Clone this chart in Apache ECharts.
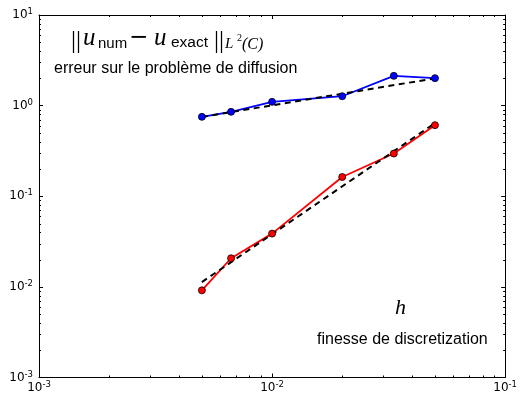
<!DOCTYPE html>
<html><head><meta charset="utf-8">
<script src="https://cdn.jsdelivr.net/npm/echarts@6/dist/echarts.min.js"></script>
<style>html,body{margin:0;padding:0;background:#fff}#c{width:520px;height:394px}</style>
</head><body><div id="c"></div>
<script>
// mesh size h
const hValues = [0.005, 0.00667, 0.01, 0.02, 0.0333, 0.05];
// errors
const diffusionError = [0.752, 0.854, 1.10, 1.27, 2.13, 2.01];
const secondError = [0.00915, 0.0207, 0.0387, 0.163, 0.296, 0.609];
// fitted power laws (dashed), read at endpoints
const fitH = [0.005, 0.05];
const diffusionFit = [0.75, 2.0];
const secondFit = [0.0113, 0.641];
// axis ranges and minor ticks
const xRange = [0.001, 0.1];
const yRange = [0.001, 10];
const xMinorTicks = [0.002,0.003,0.004,0.005,0.006,0.007,0.008,0.009,0.02,0.03,0.04,0.05,0.06,0.07,0.08,0.09];
const yMinorTicks = [0.002,0.003,0.004,0.005,0.006,0.007,0.008,0.009,0.02,0.03,0.04,0.05,0.06,0.07,0.08,0.09,0.2,0.3,0.4,0.5,0.6,0.7,0.8,0.9,2,3,4,5,6,7,8,9];

const zip = (a, b) => a.map((v, i) => [v, b[i]]);
const chart = echarts.init(document.getElementById('c'), null, {renderer: 'canvas'});

const labelRich = {
  b: {fontFamily: 'DejaVu Sans', fontSize: 12, color: '#000', lineHeight: 15},
  s: {fontFamily: 'DejaVu Sans', fontSize: 8.5, color: '#000', verticalAlign: 'top', lineHeight: 9}
};
const fmt = v => '{b|10}{s|' + Math.round(Math.log10(v)) + '}';

function logAxis(pos, range, show) {
  return {
    type: 'log', logBase: 10, min: range[0], max: range[1], position: pos,
    axisLine: {show: true, onZero: false, lineStyle: {color: '#000', width: 1}},
    axisTick: {show: true, inside: true, length: 4, lineStyle: {color: '#000', width: 1}},
    splitLine: {show: false},
    minorTick: {show: false},
    axisLabel: show ? {show: true, formatter: fmt, rich: labelRich, margin: pos === 'bottom' ? 3 : 6} : {show: false}
  };
}

function minorRender(dir) {
  return function (params, api) {
    const cs = params.coordSys;
    const p = api.coord([api.value(0), api.value(1)]);
    const L = 2;
    if (dir === 'x') {
      const x = Math.round(p[0]) + 0.5;
      const b = cs.y + cs.height, t = cs.y;
      return {type: 'group', children: [
        {type: 'line', shape: {x1: x, y1: b, x2: x, y2: b - L}, style: {stroke: '#000', lineWidth: 1}},
        {type: 'line', shape: {x1: x, y1: t, x2: x, y2: t + L}, style: {stroke: '#000', lineWidth: 1}}
      ]};
    } else {
      const y = Math.round(p[1]) + 0.5;
      const l = cs.x, r = cs.x + cs.width;
      return {type: 'group', children: [
        {type: 'line', shape: {x1: l, y1: y, x2: l + L, y2: y}, style: {stroke: '#000', lineWidth: 1}},
        {type: 'line', shape: {x1: r, y1: y, x2: r - L, y2: y}, style: {stroke: '#000', lineWidth: 1}}
      ]};
    }
  };
}

const serif = 'Liberation Serif';
const sans = 'Liberation Sans';
function txt(x, y, s, font, size, italic) {
  return {type: 'text', x: x, y: y, z: 100, silent: true,
    style: {text: s, fontFamily: font, fontSize: size, fontStyle: italic ? 'italic' : 'normal',
            fill: '#000', textAlign: 'left', textVerticalAlign: 'middle', verticalAlign: 'middle'}};
}

const option = {
  animation: false,
  backgroundColor: '#fff',
  grid: {left: 39, right: 11, top: 15, bottom: 16, containLabel: false},
  xAxis: [logAxis('bottom', xRange, true), logAxis('top', xRange, false)],
  yAxis: [logAxis('left', yRange, true), logAxis('right', yRange, false)],
  series: [
    {type: 'line', data: zip(hValues, diffusionError), showSymbol: false, z: 2,
     lineStyle: {color: '#0000ff', width: 1.8}},
    {type: 'line', data: zip(hValues, secondError), showSymbol: false, z: 2,
     lineStyle: {color: '#ff0000', width: 1.8}},
    {type: 'line', data: zip(fitH, diffusionFit), showSymbol: false, z: 3,
     lineStyle: {color: '#000', width: 2, type: [6, 4.5]}},
    {type: 'line', data: zip(fitH, secondFit), showSymbol: false, z: 3,
     lineStyle: {color: '#000', width: 2, type: [6, 4.5]}},
    {type: 'scatter', data: zip(hValues, diffusionError), symbol: 'circle', symbolSize: 7, z: 4,
     itemStyle: {color: '#0000ff', borderColor: '#000', borderWidth: 0.8, opacity: 1}},
    {type: 'scatter', data: zip(hValues, secondError), symbol: 'circle', symbolSize: 7, z: 4,
     itemStyle: {color: '#ff0000', borderColor: '#000', borderWidth: 0.8, opacity: 1}},
    {type: 'custom', coordinateSystem: 'cartesian2d', silent: true, clip: false, z: 5,
     data: xMinorTicks.map(v => [v, yRange[0]]), renderItem: minorRender('x')},
    {type: 'custom', coordinateSystem: 'cartesian2d', silent: true, clip: false, z: 5,
     data: yMinorTicks.map(v => [xRange[0], v]), renderItem: minorRender('y')}
  ],
  graphic: [
    txt(71, 41, '||', serif, 25, false),
    txt(83, 38, 'u', serif, 25, true),
    txt(98, 44, 'num', sans, 15, false),
    txt(129, 38, '\u2212', 'DejaVu Sans', 23, false),
    txt(154, 38, 'u', serif, 25, true),
    txt(171, 43, 'exact', sans, 15.5, false),
    txt(214, 41, '||', serif, 25, false),
    txt(225, 44, 'L', serif, 15, true),
    txt(237, 38.5, '2', serif, 10, false),
    txt(242, 45, '(C)', serif, 16, true),
    txt(54, 69, 'erreur sur le problème de diffusion', sans, 16, false),
    txt(395, 308, 'h', serif, 22, true),
    txt(317, 340, 'finesse de discretization', sans, 16, false)
  ]
};
chart.setOption(option);
</script>
</body></html>
